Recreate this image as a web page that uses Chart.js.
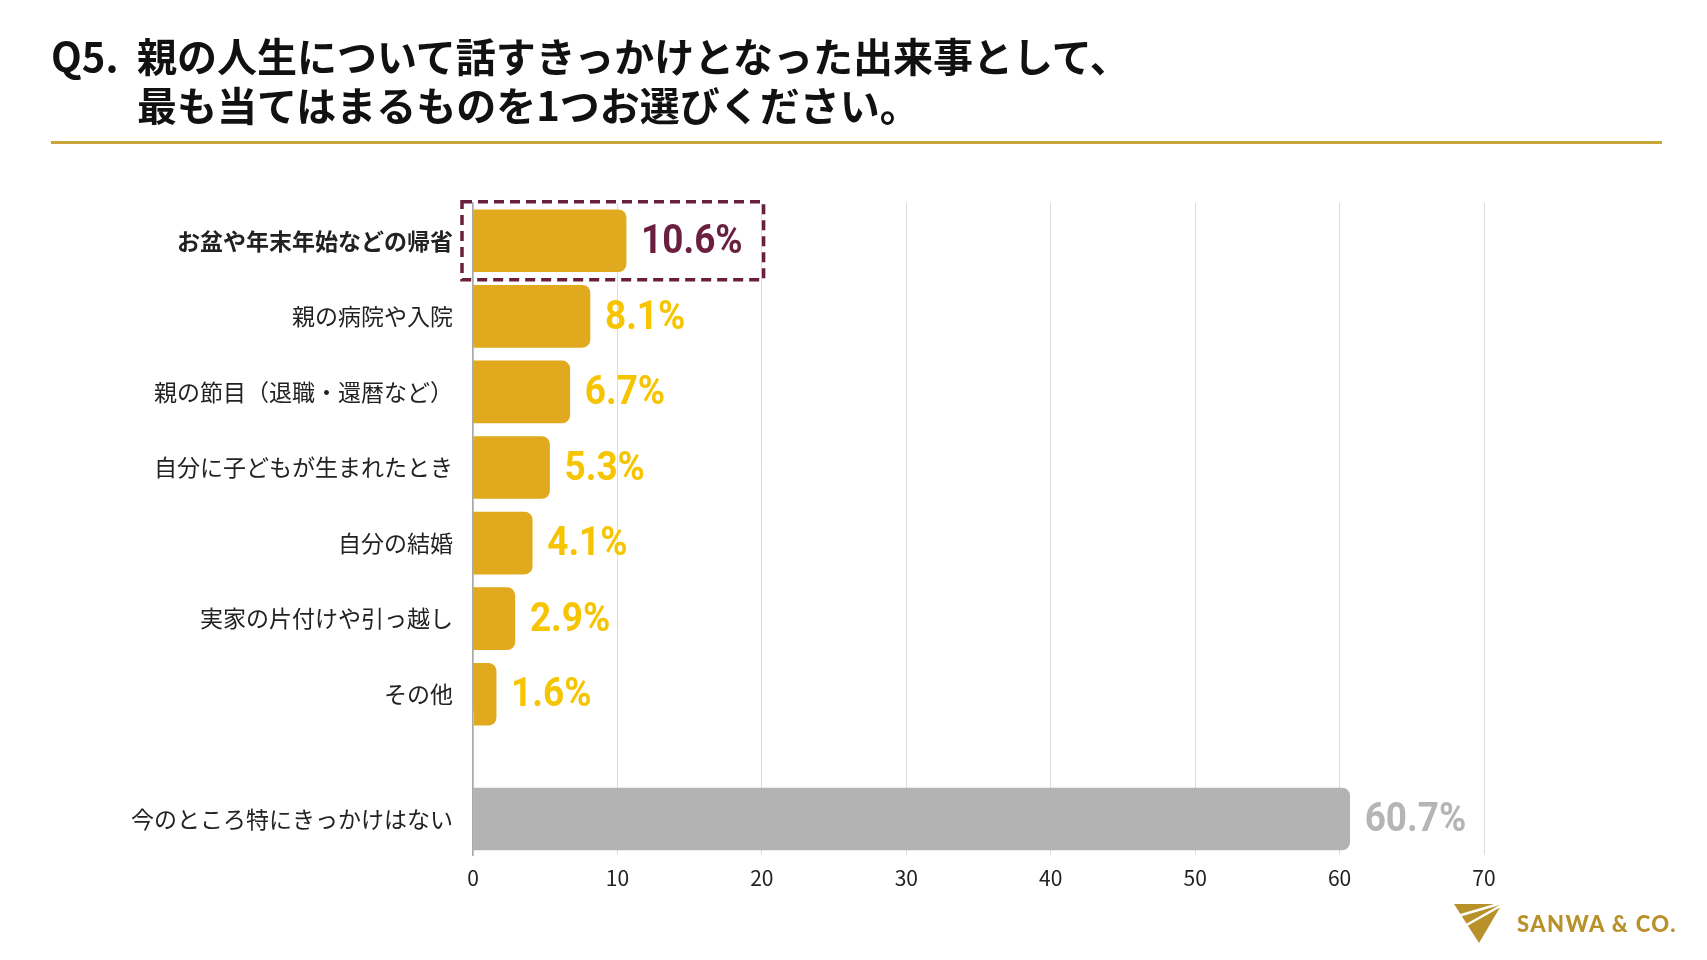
<!DOCTYPE html>
<html lang="ja">
<head>
<meta charset="utf-8">
<script src="https://cdn.jsdelivr.net/npm/chart.js@4.4.1/dist/chart.umd.min.js"></script>
<style>
  html, body { margin: 0; padding: 0; background: #fff; }
  body { width: 1707px; height: 960px; position: relative; overflow: hidden;
         font-family: 'Noto Sans CJK JP', sans-serif; }
  canvas { position: absolute; left: 0; }
  #top { top: 0; }
  #bottom { top: 700px; }
  .title { position: absolute; top: 31px; left: 51px; font-size: 40px; font-weight: 700;
           line-height: 49px; color: #111; display: flex; }
  .title .q { width: 86px; }
  .rule { position: absolute; left: 51px; top: 141px; width: 1611px; height: 3px; background: #C9A63A; }
  .logo { position: absolute; left: 1452px; top: 902px; display: flex; align-items: center; }
  .logo span { font-family: Lato, sans-serif; font-weight: 900; font-size: 22px; letter-spacing: 1.4px;
               color: #B8912B; margin-left: 13px; }
</style>
</head>
<body>
<canvas id="top" width="1707" height="740"></canvas>
<canvas id="bottom" width="1707" height="260"></canvas>
<div class="title"><div class="q">Q5.</div><div>親の人生について話すきっかけとなった出来事として、<br>最も当てはまるものを1つお選びください。</div></div>
<div class="rule"></div>
<div class="logo">
  <svg width="52" height="42" viewBox="0 0 52 42">
    <polygon points="2,2 50,2 27,41" fill="#B8912B"/>
    <line x1="6" y1="14" x2="50" y2="1" stroke="#fff" stroke-width="2.5"/>
    <line x1="11" y1="25" x2="50" y2="3" stroke="#fff" stroke-width="2.5"/>
  </svg>
  <span>SANWA &amp; CO.</span>
</div>
<script>
const categories = ['お盆や年末年始などの帰省', '親の病院や入院', '親の節目（退職・還暦など）', '自分に子どもが生まれたとき', '自分の結婚', '実家の片付けや引っ越し', 'その他'];
const values = [10.6, 8.1, 6.7, 5.3, 4.1, 2.9, 1.6];
const noneLabels = ['', '今のところ特にきっかけはない'];
const noneValues = [null, 60.7];
const xMin = 0, xMax = 70, xStep = 10;

const GOLD = '#E1A91D', YELLOW = '#F6C400', MAROON = '#6A1F3E', GREY = '#B3B3B3', GREY_TXT = '#B5B5B5';

Chart.defaults.font.family = "'Noto Sans CJK JP', sans-serif";

// percent labels after each bar, dashed box round the highlighted one
const valueLabels = {
  id: 'valueLabels',
  afterDatasetsDraw(chart, args, opts) {
    const c = chart.ctx;
    const sx = 0.9;
    const ds = chart.data.datasets[0];
    chart.getDatasetMeta(0).data.forEach((el, i) => {
      const v = ds.data[i];
      if (v == null) return;
      const txt = v.toFixed(1) + '%';
      const hi = opts.highlight === i;
      c.save();
      c.font = 'bold 41px Roboto';
      c.fillStyle = hi ? MAROON : opts.color;
      c.textBaseline = 'middle';
      const x = el.x + 15;
      const w = c.measureText(txt).width * sx;
      c.translate(x, el.y + 2);
      c.scale(sx, 1);
      c.fillText(txt, 0, 0);
      c.restore();
      if (hi) {
        const left = chart.scales.x.getPixelForValue(0) - 11;
        const right = x + w + 21;
        c.save();
        c.strokeStyle = MAROON;
        c.lineWidth = 3.5;
        c.setLineDash([10, 6]);
        c.strokeRect(left, el.y - 39, right - left, 78);
        c.restore();
      }
    });
  }
};

function makeChart(id, labels, data, color, labelColor, highlight, showTicks, padding) {
  return new Chart(document.getElementById(id), {
    type: 'bar',
    data: {
      labels: labels,
      datasets: [{
        data: data,
        backgroundColor: color,
        borderRadius: 8,
        barThickness: 62
      }]
    },
    options: {
      indexAxis: 'y',
      responsive: false,
      animation: false,
      layout: { padding: padding },
      plugins: {
        legend: { display: false },
        tooltip: { enabled: false },
        valueLabels: { color: labelColor, highlight: highlight }
      },
      scales: {
        x: {
          min: xMin, max: xMax,
          ticks: { display: showTicks, stepSize: xStep, color: '#222', font: { size: 21 }, padding: 10 },
          grid: { color: '#DCDCDC', lineWidth: 1, drawTicks: false },
          border: { display: false },
          afterFit: s => { s.height = showTicks ? 40 : 0; }
        },
        y: {
          grid: { display: false, drawTicks: false },
          border: { color: '#A8A8A8', width: 1.5 },
          ticks: {
            color: '#222',
            font: ctx => ({ size: 23, weight: ctx.index === highlight ? 'bold' : 'normal' }),
            padding: 20
          },
          // fixed label column; the category slots carry their own half-step margin
          afterFit: s => { s.width = 460; s.paddingTop = 0; s.paddingBottom = 0; }
        }
      }
    },
    plugins: [valueLabels]
  });
}

// upper block: seven event bars
makeChart('top', categories, values, GOLD, YELLOW, 0, false, { top: 203, left: 13, right: 223, bottom: 8 });
// lower block: "no trigger" bar, set apart with a gap, carries the x axis
makeChart('bottom', noneLabels, noneValues, GREY, GREY_TXT, -1, true, { top: 11, left: 13, right: 223, bottom: 65 });
</script>
</body>
</html>
